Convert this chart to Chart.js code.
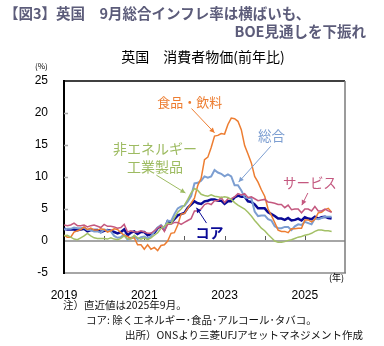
<!DOCTYPE html>
<html>
<head>
<meta charset="utf-8">
<script src="https://cdn.jsdelivr.net/npm/chart.js@4.4.1/dist/chart.umd.min.js"></script>
<style>
body { margin: 0; background: #fff; }
#cpi_chart { position: relative; width: 384px; height: 346px; overflow: hidden; font-family: "Noto Sans CJK JP", sans-serif; }
#cpi_chart canvas { position: absolute; left: 0; top: 0; }
.t { position: absolute; white-space: nowrap; line-height: 1; }
.ttl { font-weight: bold; font-size: 14.5px; color: #5c5c7a; }
.note { font-size: 10.5px; color: #111; }
</style>
</head>
<body>
<div id="cpi_chart">
  <canvas id="cpi_x" width="384" height="346"></canvas>
  <div class="t ttl" style="left:4px;top:6px;">【図3】英国　9月総合インフレ率は横ばいも、</div>
  <div class="t ttl" style="right:18px;top:24px;">BOE見通しを下振れ</div>
  <div class="t" style="left:0;width:406px;text-align:center;top:49px;font-size:14px;color:#000;">英国　消費者物価(前年比)</div>
  <div class="t" style="left:35px;top:62px;font-size:8px;color:#000;">(%)</div>
  <div class="t" style="left:329px;top:273px;font-size:9px;color:#000;">(年)</div>
  <div class="t note" style="left:63px;top:300px;">注）直近値は2025年9月。</div>
  <div class="t note" style="left:86px;top:315px;">コア: 除くエネルギー･食品･アルコール･タバコ。</div>
  <div class="t note" style="left:125px;top:330px;">出所）ONSより三菱UFJアセットマネジメント作成</div>
</div>
<script>
// monthly y/y %, Jan 2019 .. Sep 2025
const startYear = 2019;
const xTickLabels = ['2019', '', '2021', '', '2023', '', '2025', ''];

const food = [
  0.9, 0.6, 0.6, 1.4, 1.6, 1.8, 2.2, 1.8, 2.0, 1.7, 1.7, 1.9,
  1.8, 1.4, 1.6, 1.9, 1.8, 1.3, 0.9, 0.7, 0.4, 0.5, -0.6, -0.6,
  -1.3, -0.6, -1.3, -1.0, -1.5, -0.7, -0.6, 0.0, 1.2, 1.3, 2.5, 4.2,
  4.3, 5.1, 5.9, 6.7, 8.7, 9.8, 12.7, 13.1, 14.6, 16.4, 16.5, 16.8,
  16.7, 18.2, 19.2, 19.1, 18.7, 17.4, 14.9, 13.6, 12.2, 10.1, 9.2, 8.0,
  7.0, 5.0, 4.0, 2.9, 1.7, 1.5, 1.5, 1.3, 1.9, 1.9, 2.0, 2.0,
  3.3, 3.3, 3.0, 3.4, 4.4, 4.5, 4.9, 5.1, 4.5
];
const headline = [
  1.8, 1.9, 1.9, 2.1, 2.0, 2.0, 2.1, 1.7, 1.7, 1.5, 1.5, 1.3,
  1.8, 1.7, 1.5, 0.8, 0.5, 0.6, 1.0, 0.2, 0.5, 0.7, 0.3, 0.6,
  0.7, 0.4, 0.7, 1.5, 2.1, 2.5, 2.0, 3.2, 3.1, 4.2, 5.1, 5.4,
  5.5, 6.2, 7.0, 9.0, 9.1, 9.4, 10.1, 9.9, 10.1, 11.1, 10.7, 10.5,
  10.1, 10.4, 10.1, 8.7, 8.7, 7.9, 6.8, 6.7, 6.7, 4.6, 3.9, 4.0,
  4.0, 3.4, 3.2, 2.3, 2.0, 2.0, 2.2, 2.2, 1.7, 2.3, 2.6, 2.5,
  3.0, 2.8, 2.6, 3.5, 3.4, 3.6, 3.8, 3.8, 3.8
];
const core = [
  1.9, 1.8, 1.8, 1.8, 1.7, 1.8, 1.9, 1.5, 1.7, 1.7, 1.7, 1.4,
  1.6, 1.7, 1.6, 1.4, 1.2, 1.4, 1.8, 0.9, 1.3, 1.5, 1.1, 1.4,
  1.4, 0.9, 1.1, 1.3, 2.0, 2.3, 1.8, 3.1, 2.9, 3.4, 4.0, 4.2,
  4.4, 5.2, 5.7, 6.2, 5.9, 5.8, 6.2, 6.3, 6.5, 6.5, 6.3, 6.3,
  5.8, 6.2, 6.2, 6.8, 7.1, 6.9, 6.9, 6.2, 6.1, 5.7, 5.1, 5.1,
  5.1, 4.5, 4.2, 3.9, 3.5, 3.5, 3.3, 3.6, 3.2, 3.3, 3.5, 3.2,
  3.7, 3.5, 3.4, 3.8, 3.5, 3.7, 3.8, 3.6, 3.5
];
const services = [
  2.5, 2.4, 2.5, 2.8, 2.4, 2.4, 2.5, 2.2, 2.4, 2.5, 2.3, 2.1,
  2.6, 2.3, 2.3, 2.2, 2.0, 2.1, 2.6, 1.4, 1.6, 1.4, 1.4, 1.6,
  1.4, 1.2, 1.2, 1.6, 2.0, 2.4, 1.5, 2.6, 2.6, 2.9, 2.9, 2.6,
  2.9, 3.2, 3.5, 4.7, 4.7, 5.0, 5.7, 5.9, 5.7, 6.3, 6.3, 6.8,
  6.0, 6.6, 6.6, 6.9, 7.4, 7.2, 7.4, 6.8, 6.9, 6.6, 6.3, 6.4,
  6.5, 6.1, 6.0, 5.9, 5.7, 5.7, 5.2, 5.6, 4.9, 5.0, 5.0, 4.4,
  5.0, 5.0, 4.7, 5.4, 4.7, 4.7, 5.0, 4.7, 4.5
];
const neig = [
  0.8, 0.9, 0.6, 0.3, 0.2, 0.5, 0.8, 1.2, 0.8, 0.5, 0.4, 0.4,
  0.4, 0.3, 0.5, 0.3, 0.2, 0.4, 0.8, 0.3, 0.3, 0.9, 0.5, 0.3,
  0.5, 0.2, 0.5, 0.9, 1.3, 2.0, 2.3, 2.8, 2.7, 3.6, 4.5, 5.0,
  5.6, 6.5, 7.5, 8.2, 7.9, 7.3, 7.1, 7.0, 7.2, 7.0, 6.9, 6.8,
  6.9, 6.8, 6.5, 6.0, 5.6, 5.3, 5.0, 4.5, 3.9, 3.2, 2.6, 2.0,
  1.6, 1.0, 0.5, 0.0, -0.2, -0.2, -0.1, 0.1, 0.2, 0.4, 0.6, 0.7,
  0.9, 1.0, 1.2, 1.5, 1.7, 1.7, 1.6, 1.6, 1.5
];

// text labels with arrows, in (month index, %) coordinates
const notes = [
  { lines: ['食品・飲料'], m: 37.6, v: 21.7, color: '#ED7D31', size: 13, arrow: [38.1, 20.7, 45, 16.9] },
  { lines: ['総合'], m: 62, v: 16.4, color: '#7C9ED1', size: 13.5, arrow: [61.8, 14.8, 52.2, 9.2] },
  { lines: ['非エネルギー', '工業製品'], m: 27.2, v: 14.4, color: '#9DBB61', size: 14, arrow: [27.6, 10.3, 36.3, 7.5] },
  { lines: ['サービス'], m: 73.5, v: 9.1, color: '#C4587F', size: 13.5, arrow: [72.9, 7.5, 71.1, 5.6] },
  { lines: ['コア'], m: 43.5, v: 1.25, color: '#0A0A96', size: 14, bold: true, arrow: [42.6, 2.8, 39.6, 5.2] }
];

function toPoints(arr) {
  return arr.map((v, i) => ({ x: i, y: v }));
}

function drawArrow(ctx, x1, y1, x2, y2, color) {
  ctx.strokeStyle = color;
  ctx.fillStyle = color;
  ctx.lineWidth = 1;
  ctx.beginPath();
  ctx.moveTo(x1, y1);
  ctx.lineTo(x2, y2);
  ctx.stroke();
  const ang = Math.atan2(y2 - y1, x2 - x1);
  const len = 5, wid = 2.5;
  ctx.beginPath();
  ctx.moveTo(x2, y2);
  ctx.lineTo(x2 - len * Math.cos(ang) + wid * Math.sin(ang), y2 - len * Math.sin(ang) - wid * Math.cos(ang));
  ctx.lineTo(x2 - len * Math.cos(ang) - wid * Math.sin(ang), y2 - len * Math.sin(ang) + wid * Math.cos(ang));
  ctx.closePath();
  ctx.fill();
}

const decor = {
  id: 'decor',
  beforeDatasetsDraw(chart) {
    const { ctx, chartArea: a, scales: { x, y } } = chart;
    ctx.save();
    // short marks inside left axis
    ctx.strokeStyle = '#A6A6A6';
    ctx.lineWidth = 1.5;
    [5, 10, 15, 20].forEach(v => {
      const py = Math.round(y.getPixelForValue(v)) + 0.5;
      ctx.beginPath();
      ctx.moveTo(a.left, py);
      ctx.lineTo(a.left + 4, py);
      ctx.stroke();
    });
    // year marks on the zero line
    const y0 = y.getPixelForValue(0);
    ctx.strokeStyle = '#595959';
    ctx.lineWidth = 1;
    for (let m = 12; m < 84; m += 12) {
      const px = Math.round(x.getPixelForValue(m)) + 0.5;
      ctx.beginPath();
      ctx.moveTo(px, y0 - 1);
      ctx.lineTo(px, y0 - 5);
      ctx.stroke();
    }
    // top and right frame
    ctx.lineWidth = 1.5;
    ctx.strokeStyle = '#000';
    ctx.beginPath();
    ctx.moveTo(a.left, a.top);
    ctx.lineTo(a.right, a.top);
    ctx.stroke();
    ctx.strokeStyle = '#7a7a7a';
    ctx.beginPath();
    ctx.moveTo(a.right, a.top);
    ctx.lineTo(a.right, a.bottom);
    ctx.stroke();
    ctx.restore();
  },
  afterDatasetsDraw(chart) {
    const { ctx, scales: { x, y } } = chart;
    ctx.save();
    notes.forEach(n => {
      ctx.font = (n.bold ? 'bold ' : '') + n.size + 'px "Noto Sans CJK JP"';
      ctx.fillStyle = n.color;
      ctx.textAlign = 'center';
      ctx.textBaseline = 'middle';
      const px = x.getPixelForValue(n.m);
      let py = y.getPixelForValue(n.v);
      n.lines.forEach((l, i) => {
        ctx.fillText(l, px, py + i * (n.size + 4));
      });
      const a = n.arrow;
      drawArrow(ctx, x.getPixelForValue(a[0]), y.getPixelForValue(a[1]),
        x.getPixelForValue(a[2]), y.getPixelForValue(a[3]), n.color);
    });
    ctx.restore();
  }
};

function lineSet(label, arr, color, width) {
  return {
    label: label,
    data: toPoints(arr),
    borderColor: color,
    backgroundColor: color,
    borderWidth: width,
    pointRadius: 0,
    tension: 0,
    fill: false
  };
}

const ctx = document.getElementById('cpi_x').getContext('2d');
const myChart = new Chart(ctx, {
  type: 'line',
  data: {
    datasets: [
      lineSet('非エネルギー工業製品', neig, '#A3C066', 1.5),
      lineSet('サービス', services, '#C4587F', 1.5),
      lineSet('食品・飲料', food, '#ED7D31', 1.5),
      lineSet('総合', headline, '#7C9ED1', 2),
      lineSet('コア', core, '#0A0A96', 2.5)
    ]
  },
  options: {
    responsive: false,
    animation: false,
    devicePixelRatio: 1,
    layout: { padding: { top: 81, right: 39, left: 0, bottom: 0 } },
    plugins: {
      legend: { display: false },
      tooltip: { enabled: false }
    },
    scales: {
      x: {
        type: 'linear',
        min: 0,
        max: 84,
        afterFit(s) { s.height = 73; },
        grid: { display: false, drawTicks: false },
        border: { color: '#A6A6A6', width: 2 },
        ticks: {
          stepSize: 12,
          autoSkip: false,
          maxRotation: 0,
          padding: 15,
          color: '#000',
          font: { family: 'Liberation Sans', size: 12 },
          callback: v => xTickLabels[v / 12] || ''
        }
      },
      y: {
        min: -5,
        max: 25,
        afterFit(s) { s.width = 64; },
        grid: {
          drawTicks: false,
          lineWidth: 2,
          color: c => (c.tick && c.tick.value === 0) ? '#A6A6A6' : 'rgba(0,0,0,0)'
        },
        border: { color: '#000', width: 2 },
        ticks: {
          stepSize: 5,
          padding: 16,
          color: '#000',
          font: { family: 'Liberation Sans', size: 12 }
        }
      }
    }
  },
  plugins: [decor]
});
</script>
</body>
</html>
